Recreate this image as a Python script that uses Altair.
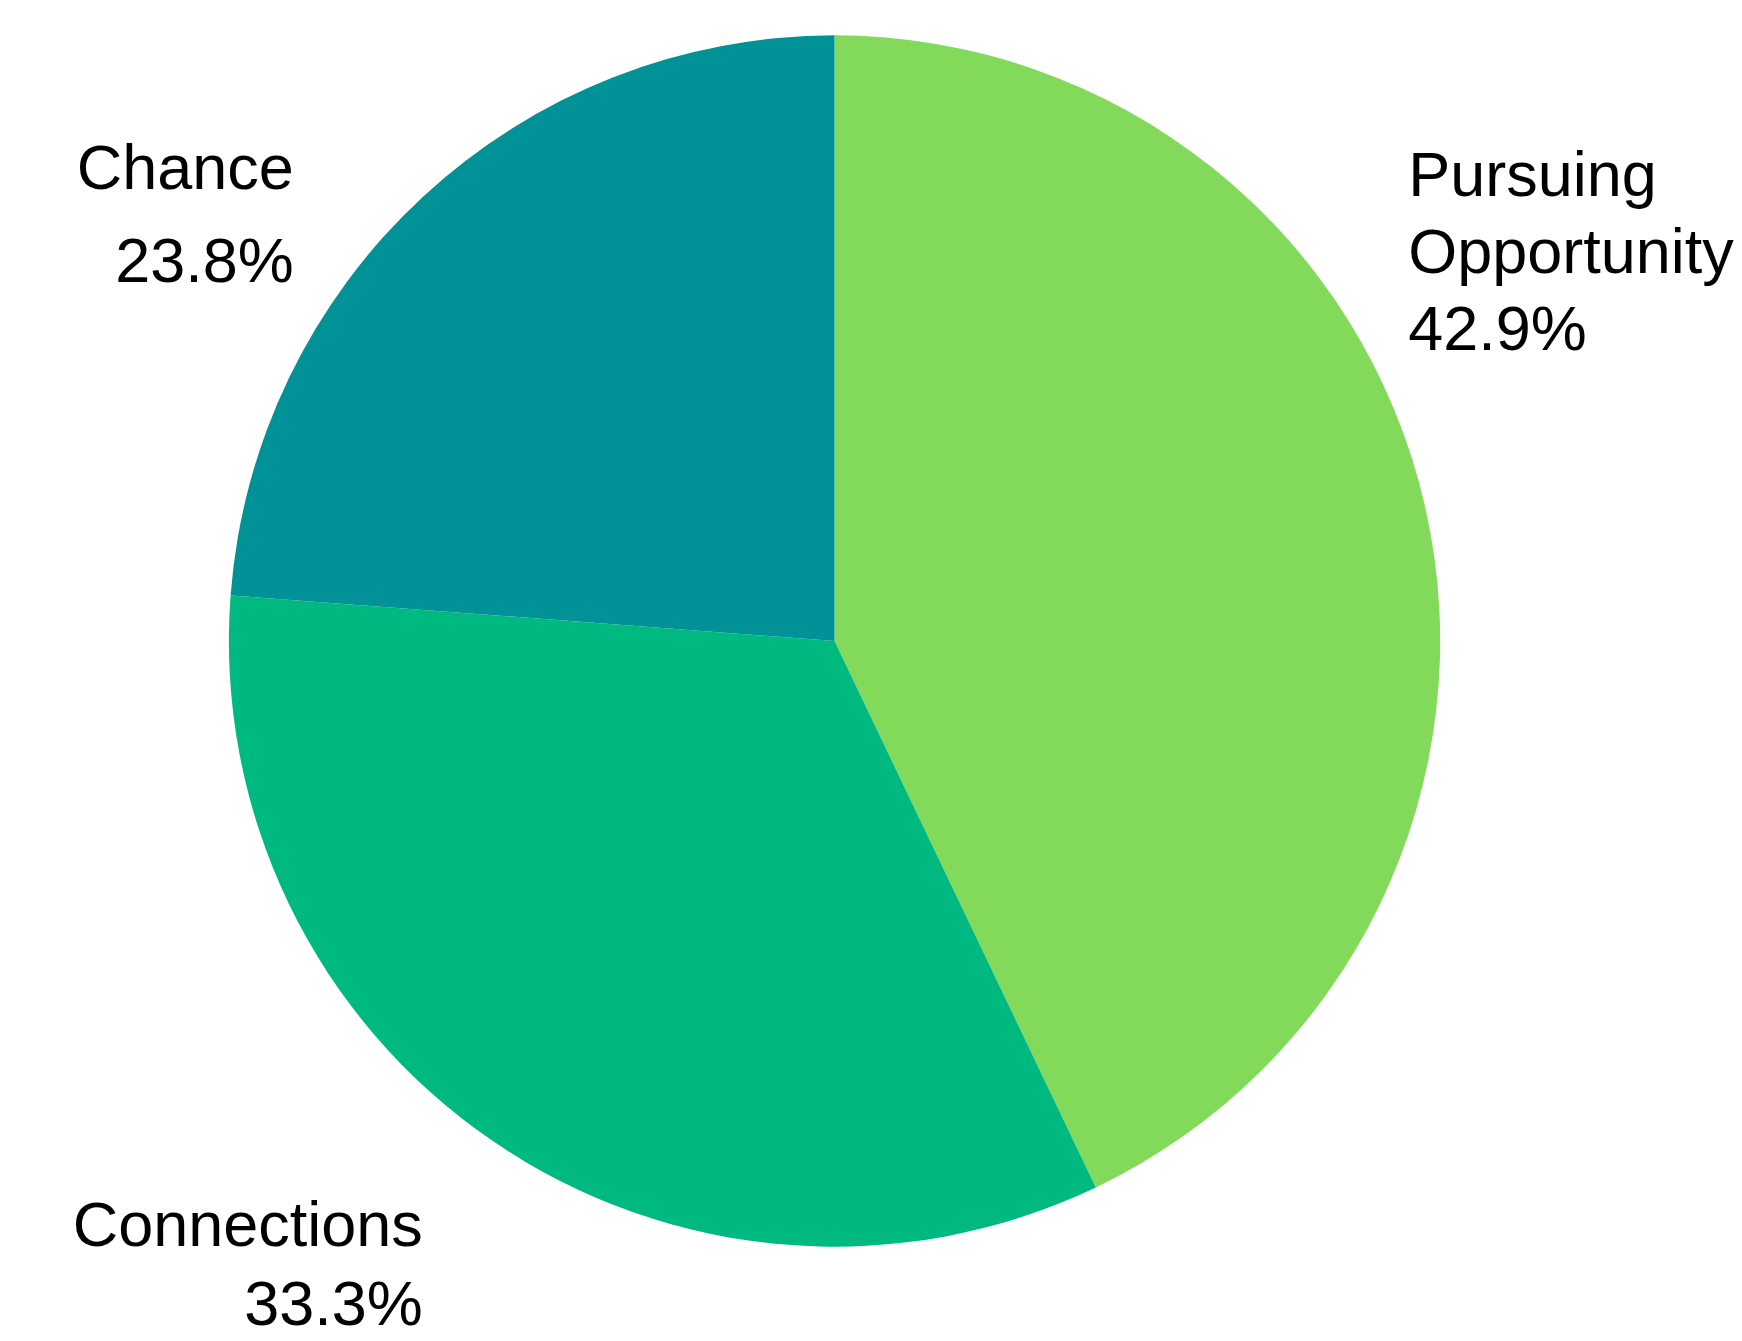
import altair as alt
import pandas as pd

# Data
categories = ["Pursuing Opportunity", "Connections", "Chance"]
label_names = ["Pursuing\nOpportunity", "Connections", "Chance"]
shares = [42.9, 33.3, 23.8]
colors = ["#82D95A", "#00B980", "#009297"]

df = pd.DataFrame({
    "category": categories,
    "share": shares,
    "order": list(range(len(categories))),
    "label": [f"{n}\n{v:.1f}%" for n, v in zip(label_names, shares)],
})

base = alt.Chart(df)

pie = base.mark_arc(radius=606).encode(
    theta=alt.Theta("share:Q", stack=True),
    color=alt.Color("category:N", scale=alt.Scale(domain=categories, range=colors), legend=None),
    order=alt.Order("order:Q"),
)


def label(cat, x, y, align, lh):
    return base.transform_filter(alt.datum.category == cat).mark_text(
        align=align,
        baseline="top",
        font="Liberation Sans",
        fontSize=63,
        lineBreak="\n",
        lineHeight=lh,
        color="black",
    ).encode(text="label:N", x=alt.value(x), y=alt.value(y))


labels = [
    label("Pursuing Opportunity", 1401, 138, "left", 77),
    label("Connections", 415, 1188, "right", 79),
    label("Chance", 286, 131, "right", 93),
]

chart = alt.layer(pie, *labels).properties(
    width=1654, height=1266, padding=0
).configure_view(stroke=None)

chart.save("out.html", embed_options={"renderer": "svg", "actions": False})
